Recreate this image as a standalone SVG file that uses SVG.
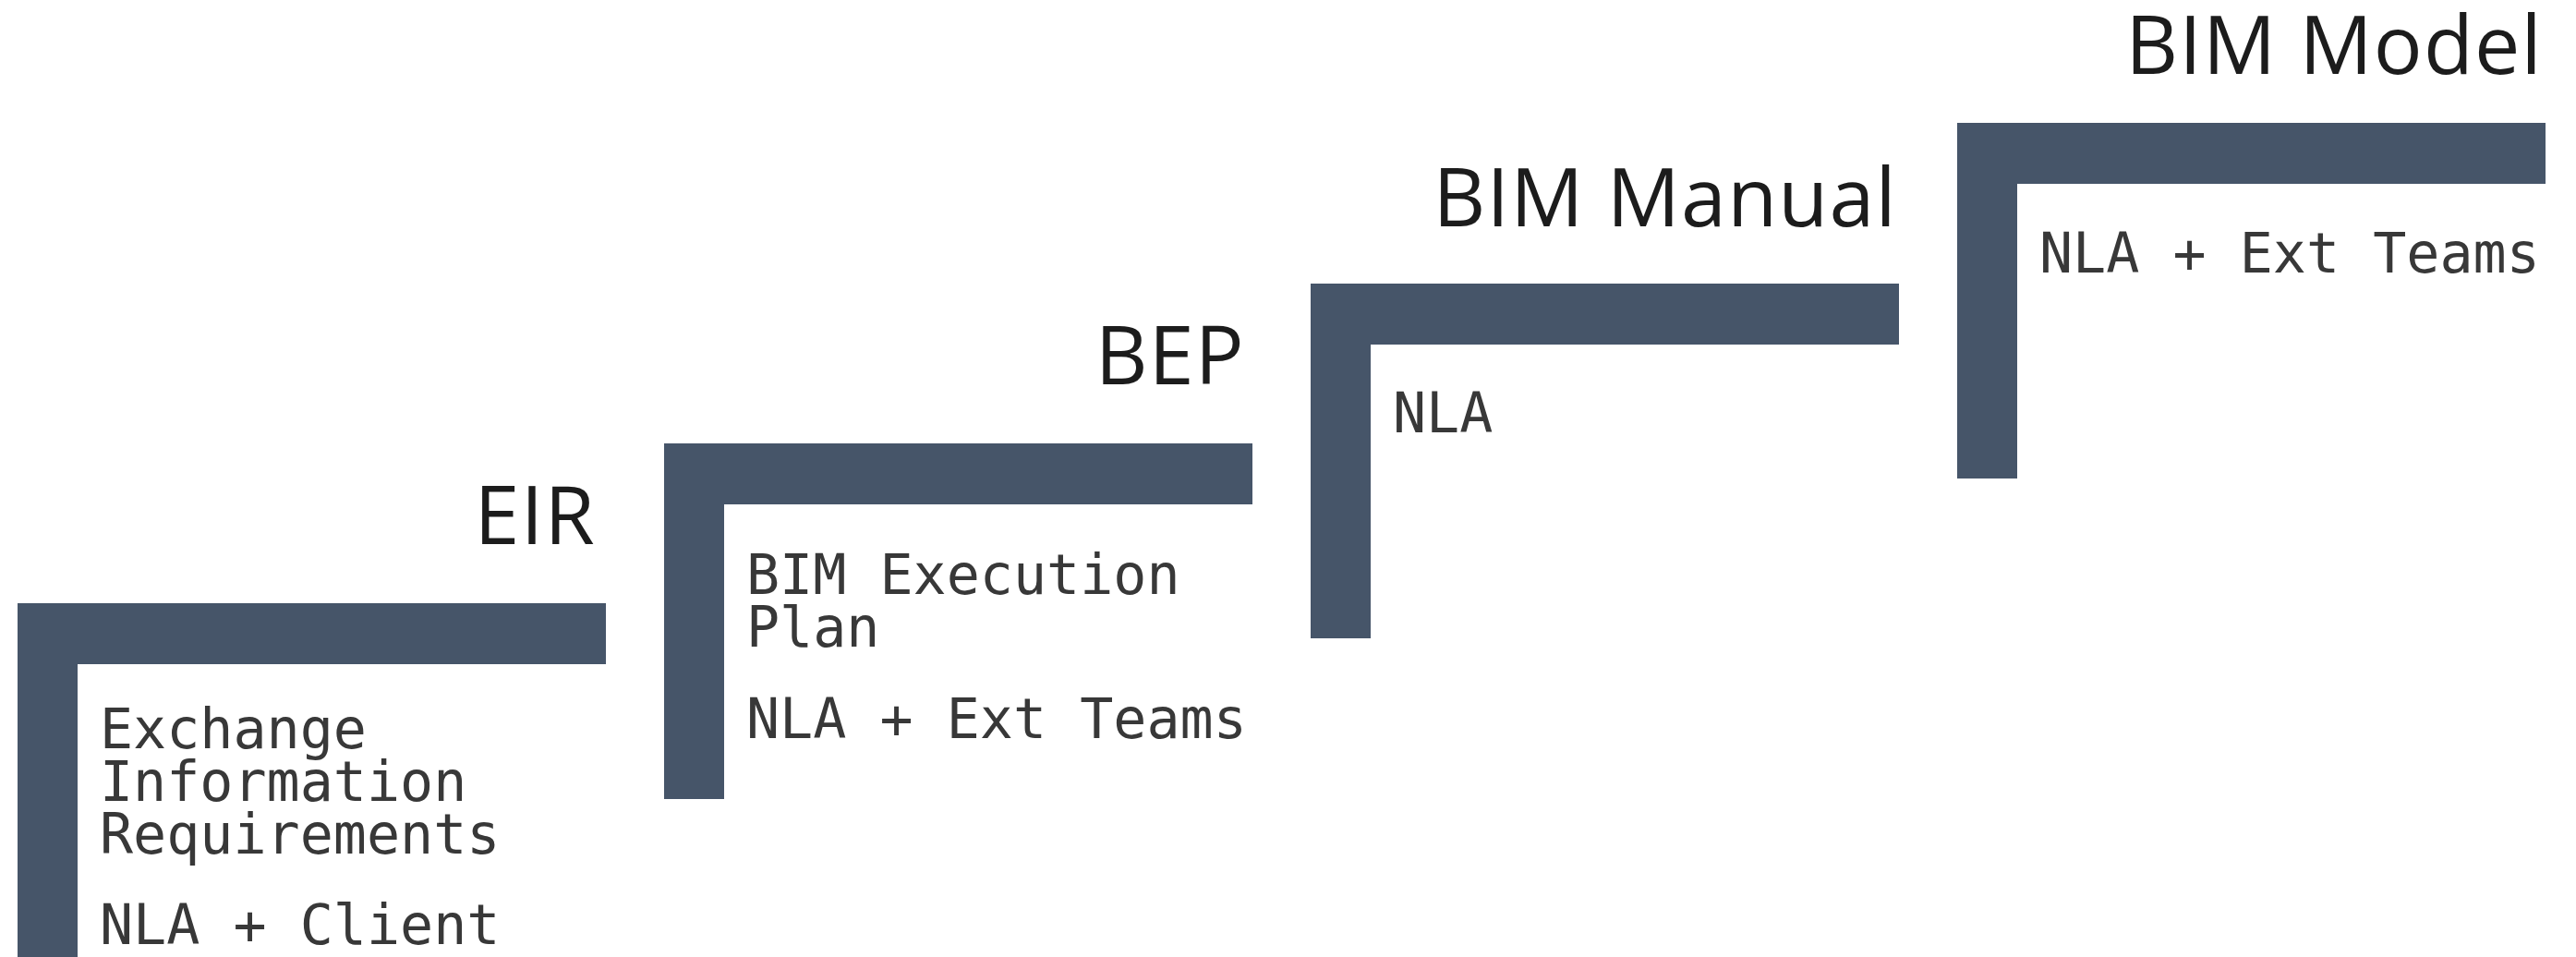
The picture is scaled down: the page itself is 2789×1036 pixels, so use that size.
<svg xmlns="http://www.w3.org/2000/svg" width="2789" height="1036" viewBox="0 0 2789 1036">
  <style>
    .step { fill: #465569; }
    .title { font-family: "Open Sans", "Noto Sans", "Liberation Sans", sans-serif; font-size: 88px; letter-spacing: 1.2px; fill: #1c1c1c; text-anchor: end; }
    .body { font-family: "DejaVu Sans Mono", "Liberation Mono", monospace; font-size: 60px; fill: #383838; }
  </style>
  <rect width="2789" height="1036" fill="#ffffff"/>
  <g id="connectors"/>
  <g id="eir">
    <path class="step" d="M19,653 h637 v66 H84 V1036 H19 Z"/>
    <text class="title" x="645" y="589">EIR</text>
    <text class="body" x="108" y="810">Exchange</text>
    <text class="body" x="108" y="867">Information</text>
    <text class="body" x="108" y="924">Requirements</text>
    <text class="body" x="108" y="1022">NLA + Client</text>
  </g>
  <g id="bep">
    <path class="step" d="M719,480 h637 v66 H784 V865 H719 Z"/>
    <text class="title" x="1348" y="416">BEP</text>
    <text class="body" x="808" y="643">BIM Execution</text>
    <text class="body" x="808" y="700">Plan</text>
    <text class="body" x="808" y="799">NLA + Ext Teams</text>
  </g>
  <g id="bim-manual">
    <path class="step" d="M1419,307 h637 v66 H1484 V691 H1419 Z"/>
    <text class="title" x="2054" y="245">BIM Manual</text>
    <text class="body" x="1508" y="468">NLA</text>
  </g>
  <g id="bim-model">
    <path class="step" d="M2119,133 h637 v66 H2184 V518 H2119 Z"/>
    <text class="title" x="2753" y="80">BIM Model</text>
    <text class="body" x="2208" y="295">NLA + Ext Teams</text>
  </g>
</svg>
